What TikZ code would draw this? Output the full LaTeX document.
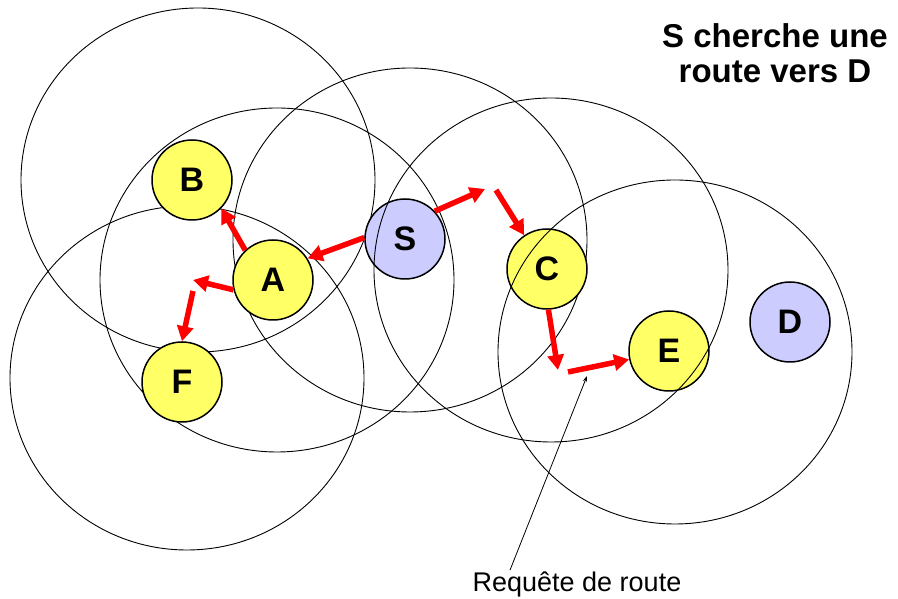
\documentclass[tikz,border=0pt]{standalone}
\usepackage{fontspec}
\setmainfont{Liberation Sans}
\usepackage{xcolor}
\usetikzlibrary{arrows.meta}

\definecolor{nodeyellow}{HTML}{FFFF66}
\definecolor{nodeblue}{HTML}{CCCCFF}

\begin{document}
\begin{tikzpicture}[x=1pt,y=1pt,
  rangering/.style={draw=black,line width=0.9pt},
  station/.style={circle,draw=black,line width=1.5pt,minimum size=80pt,inner sep=0pt,
    font=\fontsize{34}{34}\selectfont\bfseries},
  req/.style={-{Triangle[length=15pt,width=16pt]},red,line width=5.5pt}]
  \useasboundingbox (0,0) rectangle (898,599);
  % ranges under the stations
  \foreach \cx/\cy in {198/419, 187/221, 277/319, 410/359}
    \draw[rangering] (\cx,\cy) ellipse[x radius=177pt,y radius=172pt];
  % stations
  \node[station,fill=nodeyellow] (b) at (192,419) {B};
  \node[station,fill=nodeyellow] (a) at (273,319) {A};
  \node[station,fill=nodeblue] (s) at (405,360) {S};
  \node[station,fill=nodeyellow] (c) at (547,330) {C};
  \node[station,fill=nodeyellow] (e) at (669,248) {E};
  \node[station,fill=nodeblue] (d) at (790,277) {D};
  \node[station,fill=nodeyellow] (f) at (182,217) {F};
  % ranges over the stations
  \foreach \cx/\cy in {551/329, 675/247}
    \draw[rangering] (\cx,\cy) ellipse[x radius=177pt,y radius=172pt];
  % free ends of the request arrows
  \coordinate (qa) at (193,319);
  \coordinate (qb) at (193,308);
  \coordinate (qc) at (485,410);
  \coordinate (qd) at (496,409);
  \coordinate (qe) at (558,229);
  \coordinate (qf) at (568,227);
  \draw[req] (s.178) -- (a.32);
  \draw[req] (a.133) -- (b.-44);
  \draw[req] (a.194) -- (qa);
  \draw[req] (qb) -- (f.north);
  \draw[req] (s.43) -- (qc);
  \draw[req] (qd) -- (c.124);
  \draw[req] (c.-88) -- (qe);
  \draw[req] (qf) -- (e.192);
  % labels
  \node[align=center,font=\fontsize{33}{35}\selectfont\bfseries] (title) at (775,546) {S cherche une\\route vers D};
  \node[anchor=base,inner sep=2pt,font=\fontsize{27}{27}\selectfont] (reqlabel) at (577,7) {Requête de route};
  \coordinate (reqtip) at (587,223);
  \draw[-{Stealth[length=6pt,width=4pt]},line width=0.8pt] ([xshift=-67pt]reqlabel.north) -- (reqtip);
\end{tikzpicture}
\end{document}
